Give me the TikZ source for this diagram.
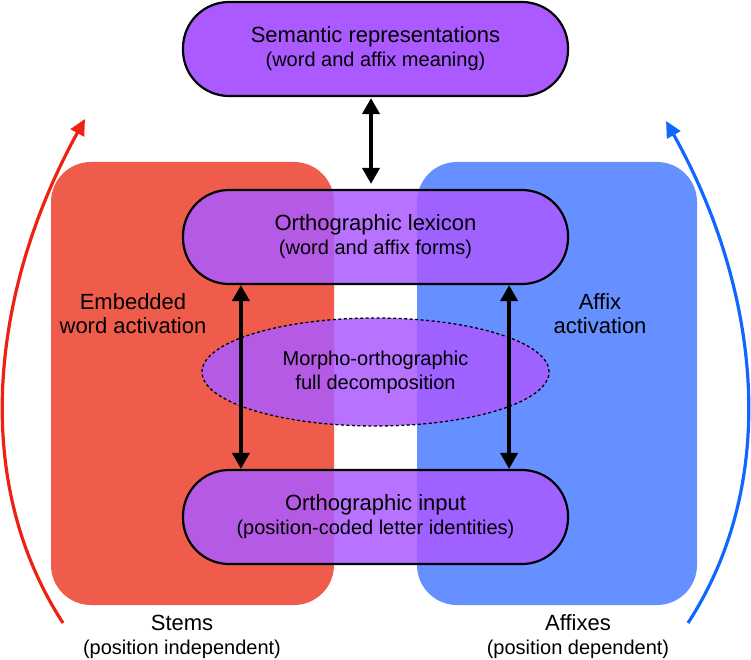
\documentclass[tikz,border=0pt]{standalone}
\usepackage{fontspec}
\setmainfont{Liberation Sans}
\usetikzlibrary{arrows.meta,shapes.geometric}
\definecolor{boxpurple}{RGB}{170,90,255}
\definecolor{stemred}{RGB}{240,92,76}
\definecolor{affixblue}{RGB}{102,143,255}
\definecolor{arcred}{RGB}{238,34,17}
\definecolor{arcblue}{RGB}{17,102,255}
\newcommand{\titlefont}{\fontsize{22}{24}\selectfont}
\newcommand{\subfont}{\fontsize{20}{24}\selectfont}
\tikzset{
  stage/.style={draw=black, line width=2.2pt, fill=boxpurple, rounded corners=46pt,
    minimum width=385pt, minimum height=94pt, align=center, font=\titlefont},
  region/.style={rounded corners=40pt, minimum height=443pt},
  dbl/.style={{Triangle[length=16pt,width=17pt]}-{Triangle[length=16pt,width=17pt]}, line width=3.8pt},
  sweep/.style={-{Triangle[length=16pt,width=15pt]}, line width=3.2pt},
}
\begin{document}
\begin{tikzpicture}[x=1pt,y=-1pt]
      \useasboundingbox (0,0) rectangle (751,660);
      \node[region, fill=stemred, minimum width=283pt] (stems) at (192.5,383.5) {};
      \node[region, fill=affixblue, minimum width=280pt] (affixes) at (557,383.5) {};
      \node[stage] (sem) at (375.5,49) {Semantic representations\\{\subfont (word and affix meaning)}};
      \node[stage, fill opacity=0.85, text opacity=1] (lex) at (375.5,237) {Orthographic lexicon\\{\subfont (word and affix forms)}};
      \node[stage, fill opacity=0.85, text opacity=1] (inp) at (375.5,517) {Orthographic input\\{\subfont (position-coded letter identities)}};
      \node[ellipse, draw, line width=1.3pt, dash pattern=on 3pt off 2.5pt, fill=boxpurple, fill opacity=0.85, text opacity=1,
            minimum width=347pt, minimum height=108pt, align=center, font=\subfont] (decomp) at (375.5,372) {Morpho-orthographic\\full decomposition};
      \node[align=center, font=\titlefont] (stemact) at (133,314) {Embedded\\word activation};
      \node[align=center, font=\titlefont] (affact) at (600,314) {Affix\\activation};
      \node[align=center, font=\titlefont] (stemlab) at (182,637) {Stems\\{\subfont (position independent)}};
      \node[align=center, font=\titlefont] (affixlab) at (578,637) {Affixes\\{\subfont (position dependent)}};
      \draw[dbl, shorten <=1pt, shorten >=5pt] ([xshift=-4.5pt]sem.south) -- ([xshift=-4.5pt]lex.north);
      \draw[dbl] ([xshift=59pt]lex.south west) -- ([xshift=59pt]inp.north west);
      \draw[dbl] ([xshift=-60pt]lex.south east) -- ([xshift=-60pt]inp.north east);
      \coordinate (stemfoot) at (63,623);
      \coordinate (stemtip) at (85,119);
      \coordinate (affixfoot) at (688,623);
      \coordinate (affixtip) at (666,121);
      \draw[sweep, arcred] (stemfoot) .. controls (-35,472) and (-3,278) .. (stemtip);
      \draw[sweep, arcblue] (affixfoot) .. controls (786,472) and (754,278) .. (affixtip);
\end{tikzpicture}
\end{document}
